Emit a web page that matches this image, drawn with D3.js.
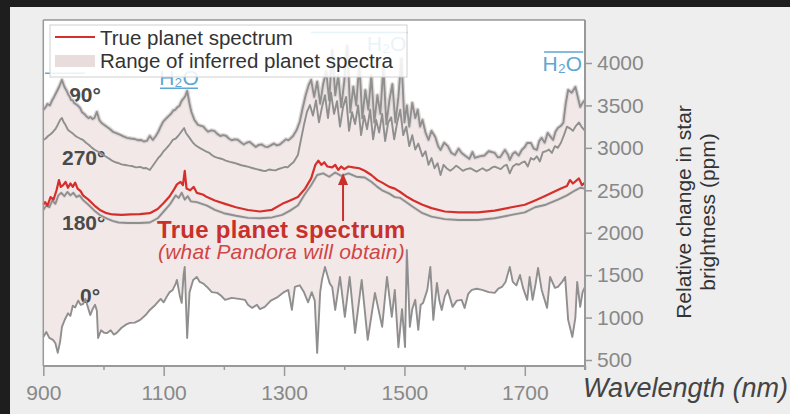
<!DOCTYPE html>
<html>
<head>
<meta charset="utf-8">
<script src="https://cdn.jsdelivr.net/npm/d3@7"></script>
<style>
  html, body { margin: 0; padding: 0; background: #1e1e1e; }
  svg { display: block; }
  text { font-family: "Liberation Sans", Arial, sans-serif; }
</style>
</head>
<body>
<svg id="chart" width="790" height="414"></svg>
<script>
// ---------------- DATA ----------------
const xTicks = [900, 1100, 1300, 1500, 1700];
const xMinorTicks = [1000, 1200, 1400, 1600, 1800];
const yTicks = [500, 1000, 1500, 2000, 2500, 3000, 3500, 4000];

// 90° phase (upper envelope of inferred spectra)
const curve90 = [
  [900,3446],[904,3480],[907,3517],[911,3500],[915,3564],[918,3600],[922,3658],[925,3700],[927,3729],[931,3800],
  [934,3740],[936,3705],[939,3670],[941,3635],[944,3600],[946,3564],[949,3560],
  [951,3529],[955,3510],[958,3493],[961,3470],[964,3423],[968,3400],[971,3376],[975,3350],[978,3364],[982,3340],[985,3352],
  [989,3423],[993,3329],[996,3300],[999,3282],
  [1006,3246],[1011,3220],[1016,3187],[1022,3170],[1028,3152],[1033,3135],[1039,3117],[1045,3110],[1051,3105],[1057,3090],
  [1062,3093],[1067,3075],[1072,3082],[1077,3140],
  [1082,3093],[1087,3140],[1091,3187],[1095,3250],[1099,3305],[1105,3352],[1109,3380],[1112,3399],[1116,3440],[1119,3446],
  [1123,3480],[1126,3493],[1129,3540],[1131,3564],
  [1134,3590],[1136,3611],[1139,3670],[1143,3517],[1146,3423],[1151,3329],[1154,3300],[1157,3270],[1162,3260],[1166,3250],
  [1170,3215],[1174,3190],[1179,3205],
  [1184,3200],[1189,3165],[1194,3140],[1199,3150],[1204,3140],[1208,3110],[1213,3090],[1218,3100],[1223,3095],[1228,3065],
  [1233,3040],[1238,3060],[1243,3070],[1248,3040],[1253,3010],
  [1258,3035],[1263,3040],[1268,3015],[1273,3010],[1278,3030],[1283,3050],[1288,3030],[1293,3040],[1298,3070],[1303,3100],
  [1307,3090],[1310,3105],[1315,3140],[1321,3211],
  [1326,3305],[1331,3470],[1336,3623],[1341,3741],[1345,3800],[1350,3600],[1355,3780],[1360,3520],
  [1365,3750],[1370,3900],[1375,3560],[1380,4150],[1385,3620],[1390,3850],[1395,3480],[1400,3780],
  [1405,4200],[1410,3420],[1415,3720],[1420,3500],[1425,4000],[1430,3350],[1435,3680],[1440,3450],
  [1445,3850],[1450,3300],[1455,3620],[1460,3400],[1465,3950],[1470,3280],[1475,3560],[1480,3750],
  [1485,3300],[1490,3600],[1495,4050],[1500,3300],[1504,3500],[1508,3250],[1513,3529],[1518,3350],
  [1522,3450],[1526,3250],[1530,3329],[1535,3180],[1540,3093],[1545,3200],[1551,3130],[1556,3020],
  [1560,2975],[1566,3060],[1572,3020],[1578,2940],[1584,2916],[1590,2990],[1595,2940],[1602,2900],
  [1608,2870],[1613,2950],[1617,2881],[1625,2900],[1633,2910],[1640,2960],[1650,2940],[1655,2890],
  [1659,2890],[1667,2975],[1672,2920],[1675,2857],[1680,2930],[1684,2950],[1690,2910],[1695,2975],
  [1700,3010],[1704,3058],[1710,3058],[1715,2990],[1720,2975],[1724,3080],[1728,3117],[1733,3060],
  [1738,3175],[1743,3130],[1747,3093],[1751,3190],[1755,3234],[1760,3260],[1764,3293],[1768,3520],
  [1772,3682],[1778,3650],[1784,3717],[1788,3600],[1792,3482],[1796,3530],[1800,3564]
];

// 270° phase
const curve270 = [
  [900,3093],[904,3110],[908,3140],[912,3160],[916,3187],[920,3220],[923,3258],[928,3329],[931,3352],[934,3300],[936,3282],
  [939,3240],[941,3211],[945,3190],[948,3175],
  [952,3150],[956,3128],[961,3110],[966,3093],[971,3060],[976,3034],[981,3000],[986,2975],[990,2960],[994,2940],[1000,2915],
  [1005,2893],[1010,2870],[1015,2846],[1020,2830],[1024,2822],
  [1030,2805],[1036,2798],[1042,2790],[1047,2786],[1054,2770],[1061,2775],[1066,2760],[1071,2763],[1077,2739],[1084,2810],
  [1091,2881],[1095,2910],[1099,2952],
  [1104,2990],[1108,3022],[1112,3060],[1115,3093],[1120,3110],[1124,3140],[1129,3187],[1134,3234],[1137,3175],[1143,3117],
  [1149,3058],[1153,3030],[1157,3011],[1162,2990],[1166,2975],[1171,2955],[1176,2940],[1181,2910],[1185,2893],[1191,2880],
  [1197,2869],[1203,2850],[1210,2834],[1216,2825],[1223,2810],[1229,2795],[1235,2786],
  [1241,2775],[1247,2763],[1254,2750],[1260,2739],[1265,2730],[1270,2728],[1275,2745],[1280,2739],[1286,2735],[1291,2751],
  [1297,2765],[1302,2775],[1306,2770],[1310,2798],[1316,2834],
  [1323,2916],[1328,3093],[1333,3270],[1338,3423],[1343,3505],[1348,3380],[1353,3560],[1358,3300],
  [1363,3480],[1368,3620],[1373,3350],[1378,3650],[1383,3400],[1388,3550],[1393,3250],[1398,3480],
  [1403,3600],[1408,3200],[1413,3420],[1418,3280],[1423,3500],[1428,3150],[1433,3380],[1438,3220],
  [1443,3450],[1448,3100],[1453,3330],[1458,3180],[1463,3400],[1468,3080],[1473,3300],[1478,3360],
  [1483,3100],[1488,3300],[1493,3450],[1498,3150],[1503,3250],[1508,3020],[1513,3150],[1518,2980],
  [1523,3050],[1530,2900],[1535,2960],[1540,2800],[1545,2880],[1550,2760],[1555,2820],[1560,2680],
  [1565,2800],[1570,2760],[1576,2730],[1580,2750],[1586,2790],[1590,2770],[1597,2730],[1603,2750],[1610,2760],
  [1616,2735],[1620,2720],[1626,2745],[1630,2760],[1636,2730],[1640,2740],[1646,2770],[1650,2780],[1656,2760],
  [1660,2750],[1666,2790],[1670,2800],[1675,2700],[1680,2780],[1686,2810],[1690,2800],[1696,2830],[1700,2840],
  [1705,2780],[1710,2880],[1715,2860],[1720,2900],[1725,2840],[1730,2950],[1735,2960],[1740,2980],[1745,2940],
  [1750,3020],[1755,3000],[1760,3060],[1765,3150],[1770,3250],[1775,3230],[1780,3200],[1785,3260],[1790,3300],
  [1795,3240],[1800,3200]
];

// 180° phase
const curve180 = [
  [900,2268],[905,2320],[910,2300],[915,2380],[920,2340],[925,2440],[930,2470],[935,2430],[940,2480],
  [945,2440],[950,2470],[955,2420],[960,2440],[966,2386],[975,2330],[985,2260],[994,2209],[1005,2170],
  [1015,2140],[1025,2120],[1040,2115],[1060,2115],[1077,2120],[1090,2170],[1100,2250],[1110,2330],
  [1120,2440],[1125,2410],[1130,2470],[1135,2390],[1140,2430],[1145,2370],[1155,2360],[1172,2320],
  [1185,2270],[1200,2230],[1220,2200],[1240,2175],[1260,2170],[1280,2180],[1297,2210],[1310,2260],
  [1323,2320],[1335,2460],[1345,2560],[1355,2680],[1365,2700],[1375,2660],[1385,2710],[1395,2670],
  [1407,2700],[1420,2660],[1434,2650],[1445,2600],[1455,2540],[1463,2500],[1475,2460],[1484,2420],
  [1493,2410],[1505,2350],[1515,2300],[1530,2230],[1545,2190],[1567,2160],[1590,2150],[1622,2150],
  [1650,2170],[1678,2210],[1700,2240],[1717,2300],[1735,2330],[1755,2390],[1770,2440],[1784,2500],
  [1792,2530],[1800,2520]
];

// True planet spectrum
const curveTrue = [
  [900,2330],[903,2360],[907,2320],[912,2420],[917,2390],[922,2500],[926,2620],[929,2540],[933,2560],
  [937,2600],[941,2530],[945,2580],[949,2540],[953,2590],[957,2520],[962,2490],[966,2440],[975,2390],
  [985,2320],[994,2268],[1005,2230],[1015,2215],[1030,2210],[1045,2215],[1060,2220],[1077,2230],
  [1090,2280],[1100,2350],[1110,2430],[1118,2520],[1122,2570],[1128,2600],[1132,2560],[1135,2730],
  [1138,2520],[1144,2500],[1150,2540],[1155,2470],[1165,2450],[1172,2420],[1185,2380],[1202,2340],
  [1220,2300],[1240,2268],[1260,2250],[1280,2270],[1297,2340],[1310,2380],[1323,2420],[1335,2520],
  [1345,2640],[1352,2800],[1357,2850],[1362,2800],[1367,2830],[1372,2780],[1380,2770],[1385,2800],
  [1390,2740],[1395,2780],[1400,2750],[1407,2780],[1415,2770],[1425,2760],[1434,2730],[1445,2680],
  [1455,2620],[1463,2590],[1475,2540],[1484,2520],[1493,2480],[1505,2420],[1515,2380],[1530,2330],
  [1545,2290],[1567,2250],[1590,2240],[1622,2240],[1650,2260],[1678,2300],[1700,2330],[1717,2380],
  [1730,2420],[1745,2470],[1760,2520],[1770,2550],[1775,2620],[1780,2580],[1790,2640],[1795,2560],
  [1800,2590]
];

// 0° phase (lower envelope of inferred spectra)
const curve0 = [
  [900,772],[905,830],[910,760],[916,737],[920,700],[924,584],[928,720],[931,890],[936,980],[941,1050],
  [945,1020],[949,1140],[953,1120],[958,1200],[962,1150],[966,1160],[970,1220],[975,1100],[978,1030],
  [982,1100],[986,1150],[989,1080],[991,760],[996,850],[1001,820],[1006,819],[1012,850],[1017,800],
  [1022,819],[1030,880],[1038,920],[1044,937],[1052,940],[1061,973],[1070,1030],[1077,1090],
  [1086,1149],[1095,1220],[1100,1180],[1105,1244],[1110,1300],[1115,1326],[1120,1400],[1122,1444],
  [1127,1250],[1130,1173],[1133,1500],[1135,1597],[1139,760],[1143,1300],[1149,1444],[1155,1479],
  [1160,1420],[1166,1400],[1172,1361],[1180,1300],[1189,1291],[1195,1260],[1202,1209],[1213,1232],
  [1225,1220],[1235,1209],[1240,1150],[1247,1114],[1255,1150],[1260,1100],[1268,1126],[1278,1200],
  [1290,1244],[1300,1300],[1307,1326],[1313,1090],[1318,1361],[1326,1380],[1333,1300],[1340,1180],
  [1346,1300],[1351,1200],[1355,584],[1360,1300],[1363,1444],[1368,1597],[1372,1500],[1376,1400],
  [1380,1361],[1385,1090],[1393,1479],[1401,1008],[1409,1479],[1418,819],[1429,1444],[1439,737],
  [1451,1291],[1463,890],[1471,1479],[1479,1008],[1484,1326],[1490,650],[1496,1100],[1501,654],
  [1504,1797],[1509,890],[1513,1100],[1518,1209],[1523,855],[1527,1150],[1531,1173],[1538,1326],
  [1543,1597],[1548,973],[1554,1408],[1558,1200],[1562,1090],[1567,1250],[1572,1326],[1580,1126],
  [1587,1200],[1595,1209],[1600,1114],[1606,1280],[1612,1326],[1620,1340],[1629,1326],[1640,1300],
  [1650,1291],[1656,1340],[1662,1361],[1668,1420],[1675,1597],[1680,1420],[1686,1380],[1692,1502],
  [1697,1350],[1704,1209],[1708,1479],[1713,1209],[1718,1400],[1722,1585],[1728,1326],[1737,1114],
  [1742,1479],[1750,1350],[1755,1361],[1762,1420],[1767,1479],[1772,973],[1779,772],[1784,1000],
  [1787,1420],[1792,1126],[1796,1300],[1800,1361]
];

// Phase labels: [text, wavelength, ppm]
const phaseLabels = [["90°", 943, 3540], ["270°", 931, 2800], ["180°", 931, 2030], ["0°", 961, 1170]];

// H2O bands: [start nm, end nm, bar ppm, label]
const waterBands = [[903, 970, 3880, ""], [1094, 1157, 3890, "H\u2082O"], [1345, 1505, 4360, "H\u2082O"], [1732, 1797, 4130, "H\u2082O"]];

// ---------------- CHART ----------------
const svg = d3.select("#chart");
const x = d3.scaleLinear().domain([900, 1800]).range([43.3, 585]);
const y = d3.scaleLinear().domain([500, 4000]).range([360, 63]);
const yLo = 430, yHi = 4507;

const gray = "#8f8f8f", red = "#d42f2b", blue = "#5ea6d3";

// panel background
svg.append("rect").attr("x", 10).attr("y", 7).attr("width", 780).attr("height", 407).attr("fill", "#eeeeee");
// plot background
svg.append("rect").attr("x", x(900)).attr("y", y(yHi)).attr("width", x(1800) - x(900)).attr("height", y(yLo) - y(yHi)).attr("fill", "#ffffff");

const line = d3.line().x(d => x(d[0])).y(d => y(d[1]));

// range fill between 90° and 0°
const poly = curve90.concat(curve0.slice().reverse());
svg.append("path").attr("d", line(poly) + "Z").attr("fill", "#f2e8e8");

// H2O bands
waterBands.forEach(([a, b, v, lab], i) => {
  const yy = y(v);
  if (i === 1) {
    svg.append("line").attr("x1", x(a)).attr("x2", x(b)).attr("y1", yy + 16).attr("y2", yy + 16)
      .attr("stroke", blue).attr("stroke-width", 1.5);
    svg.append("text").attr("x", (x(a) + x(b)) / 2).attr("y", yy + 13).attr("text-anchor", "middle")
      .attr("font-size", 21).attr("fill", blue).text(lab);
  } else {
    svg.append("line").attr("x1", x(a)).attr("x2", x(b)).attr("y1", yy).attr("y2", yy)
      .attr("stroke", blue).attr("stroke-width", 1.5);
    if (lab) {
      svg.append("text").attr("x", x(b) - 1).attr("y", yy + 19).attr("text-anchor", "end")
        .attr("font-size", 21).attr("fill", blue).text(lab);
    }
  }
});

// phase labels
phaseLabels.forEach(([t, w, v]) => {
  svg.append("text").attr("x", x(w)).attr("y", y(v)).attr("font-size", 21).attr("font-weight", "bold")
    .attr("fill", "#4a4a4a").text(t);
});

// halos
svg.append("path").attr("d", line(curve90)).attr("fill", "none").attr("stroke", "#e1d9d9").attr("stroke-width", 4.5)
  .attr("stroke-linejoin", "round");
svg.append("path").attr("d", line(curve180)).attr("fill", "none").attr("stroke", "#e4dcdc").attr("stroke-width", 3.5)
  .attr("stroke-linejoin", "round");
// gray curves
[curve90, curve270, curve180, curve0].forEach(c => {
  svg.append("path").attr("d", line(c)).attr("fill", "none").attr("stroke", gray).attr("stroke-width", 1.9)
    .attr("stroke-linejoin", "round");
});
// true spectrum
svg.append("path").attr("d", line(curveTrue)).attr("fill", "none").attr("stroke", red).attr("stroke-width", 2.2)
  .attr("stroke-linejoin", "round");

// frame
svg.append("line").attr("x1", x(900)).attr("x2", x(1800)).attr("y1", y(yHi)).attr("y2", y(yHi))
  .attr("stroke", "#666").attr("stroke-width", 1.2);
svg.append("line").attr("x1", x(900)).attr("x2", x(900)).attr("y1", y(yHi)).attr("y2", y(yLo))
  .attr("stroke", "#999").attr("stroke-width", 1.5);
svg.append("line").attr("x1", x(1800)).attr("x2", x(1800)).attr("y1", y(yHi)).attr("y2", y(yLo) + 4)
  .attr("stroke", "#999").attr("stroke-width", 2);
svg.append("line").attr("x1", x(900)).attr("x2", x(1800)).attr("y1", y(yLo)).attr("y2", y(yLo))
  .attr("stroke", "#999").attr("stroke-width", 2);

// right axis
const gy = svg.append("g").attr("transform", `translate(${x(1800)},0)`)
  .call(d3.axisRight(y).tickValues(yTicks).tickSize(7).tickPadding(5).tickFormat(d3.format("d")));
gy.select(".domain").remove();
gy.selectAll(".tick line").attr("stroke", "#999").attr("stroke-width", 1.5);
gy.selectAll(".tick text").attr("font-size", 21).attr("fill", "#888").attr("font-family", "Liberation Sans, Arial, sans-serif");

// bottom axis
const gx = svg.append("g").attr("transform", `translate(0,${y(yLo)})`)
  .call(d3.axisBottom(x).tickValues(xTicks).tickSize(10).tickPadding(9).tickFormat(d3.format("d")));
gx.select(".domain").remove();
gx.selectAll(".tick line").attr("stroke", "#999").attr("stroke-width", 1.5);
gx.selectAll(".tick text").attr("font-size", 21).attr("fill", "#888").attr("font-family", "Liberation Sans, Arial, sans-serif");
const gxm = svg.append("g").attr("transform", `translate(0,${y(yLo)})`)
  .call(d3.axisBottom(x).tickValues(xMinorTicks).tickSize(4).tickFormat(""));
gxm.select(".domain").remove();
gxm.selectAll(".tick line").attr("stroke", "#999").attr("stroke-width", 1.5);

// axis titles
svg.append("text").attr("x", 788).attr("y", 397).attr("text-anchor", "end").attr("font-size", 27)
  .attr("font-style", "italic").attr("fill", "#444").text("Wavelength (nm)");
const yt = svg.append("text").attr("transform", "translate(691,212) rotate(-90)").attr("text-anchor", "middle")
  .attr("font-size", 21).attr("fill", "#333");
yt.append("tspan").attr("x", 0).attr("y", 0).text("Relative change in star");
yt.append("tspan").attr("x", 0).attr("y", 24).text("brightness (ppm)");

// annotation
svg.append("text").attr("x", 157).attr("y", 238).attr("font-size", 24).attr("font-weight", "bold")
  .attr("fill", "#c9302c").attr("letter-spacing", 0.3).text("True planet spectrum");
svg.append("text").attr("x", 158).attr("y", 259).attr("font-size", 21).attr("font-style", "italic")
  .attr("fill", "#d04545").attr("letter-spacing", 0.2).text("(what Pandora will obtain)");
const ax = x(1398);
svg.append("line").attr("x1", ax).attr("x2", ax).attr("y1", 221).attr("y2", 183)
  .attr("stroke", "#c9302c").attr("stroke-width", 2);
svg.append("path").attr("d", `M${ax},173 L${ax - 5},185 L${ax + 5},185 Z`).attr("fill", "#c9302c");

// legend
svg.append("rect").attr("x", 50).attr("y", 25).attr("width", 357).attr("height", 52)
  .attr("fill", "#ffffff").attr("fill-opacity", 0.86).attr("stroke", "#d0d0d0").attr("stroke-width", 1);
svg.append("line").attr("x1", 55).attr("x2", 95).attr("y1", 37).attr("y2", 37).attr("stroke", red).attr("stroke-width", 2.2);
svg.append("text").attr("x", 100).attr("y", 45).attr("font-size", 20.5).attr("fill", "#333").text("True planet spectrum");
svg.append("rect").attr("x", 55).attr("y", 55).attr("width", 40).attr("height", 12).attr("fill", "#e9dcdc");
svg.append("text").attr("x", 100).attr("y", 68).attr("font-size", 20.5).attr("fill", "#333").text("Range of inferred planet spectra");
</script>
</body>
</html>
